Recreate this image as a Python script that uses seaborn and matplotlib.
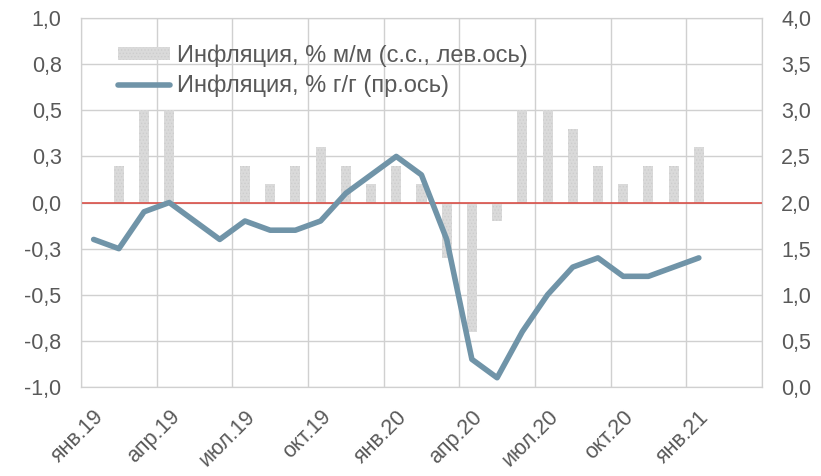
import numpy as np
import pandas as pd
import matplotlib
matplotlib.use('Agg')
import matplotlib.pyplot as plt
import seaborn as sns
from matplotlib.patches import Patch
from matplotlib.lines import Line2D

# Data (Jan 2019 .. Jan 2021)
months = ['янв.19', 'фев.19', 'мар.19', 'апр.19', 'май.19', 'июн.19',
          'июл.19', 'авг.19', 'сен.19', 'окт.19', 'ноя.19', 'дек.19',
          'янв.20', 'фев.20', 'мар.20', 'апр.20', 'май.20', 'июн.20',
          'июл.20', 'авг.20', 'сен.20', 'окт.20', 'ноя.20', 'дек.20',
          'янв.21']
mom_sa = [0.0, 0.2, 0.5, 0.5, 0.0, 0.0,
          0.2, 0.1, 0.2, 0.3, 0.2, 0.1,
          0.2, 0.1, -0.3, -0.7, -0.1, 0.5,
          0.5, 0.4, 0.2, 0.1, 0.2, 0.2,
          0.3]
yoy = [1.6, 1.5, 1.9, 2.0, 1.8, 1.6,
       1.8, 1.7, 1.7, 1.8, 2.1, 2.3,
       2.5, 2.3, 1.6, 0.3, 0.1, 0.6,
       1.0, 1.3, 1.4, 1.2, 1.2, 1.3,
       1.4]
xtick_labels = ['янв.19', 'апр.19', 'июл.19', 'окт.19', 'янв.20',
                'апр.20', 'июл.20', 'окт.20', 'янв.21']
left_ticks = [-1.0, -0.75, -0.5, -0.25, 0.0, 0.25, 0.5, 0.75, 1.0]
left_labels = ['-1,0', '-0,8', '-0,5', '-0,3', '0,0', '0,3', '0,5', '0,8', '1,0']
right_ticks = [0.0, 0.5, 1.0, 1.5, 2.0, 2.5, 3.0, 3.5, 4.0]
right_labels = ['0,0', '0,5', '1,0', '1,5', '2,0', '2,5', '3,0', '3,5', '4,0']
legend_labels = ['Инфляция, % м/м (с.с., лев.ось)', 'Инфляция, % г/г (пр.ось)']

df = pd.DataFrame({'month': months, 'mom': mom_sa, 'yoy': yoy, 'pos': np.arange(len(months))})

sns.set_style('white')
plt.rcParams['font.family'] = ['Liberation Sans', 'DejaVu Sans']
plt.rcParams['hatch.linewidth'] = 0.6

text_color = '#595959'
grid_color = '#d0d0d0'
bar_color = '#dadada'
line_color = '#7094a8'

fig, ax = plt.subplots(figsize=(8.21, 4.76), dpi=100)
fig.subplots_adjust(left=0.0987, right=0.928, top=0.962, bottom=0.187)

sns.barplot(data=df, x='pos', y='mom', native_scale=True, color=bar_color,
            width=0.4, saturation=1, ax=ax, zorder=2)
for p in ax.patches:
    p.set_hatch('.....')
    p.set_edgecolor('#cdcdcd')
    p.set_linewidth(0)
ax.set_xlim(-0.5, 26.5)
ax.set_ylim(-1.0, 1.0)
ax.set_yticks(left_ticks)
ax.set_yticklabels(left_labels)
ax.axhline(0, color='#d9433a', lw=1.1, zorder=3)

ax.set_xticks(np.arange(0, 25, 3))
ax.set_xticklabels(xtick_labels, rotation=45, ha='right', rotation_mode='anchor')
ax.set_xticks(np.arange(-0.5, 27, 3), minor=True)
ax.grid(which='minor', axis='x', color=grid_color, lw=1)
ax.grid(which='major', axis='y', color=grid_color, lw=1)
ax.grid(which='major', axis='x', visible=False)
ax.set_axisbelow(True)
ax.set_xlabel('')
ax.set_ylabel('')
ax.tick_params(axis='both', which='both', length=0, labelsize=15.5, colors=text_color)
ax.tick_params(axis='y', pad=14)
ax.tick_params(axis='x', pad=14)
for s in ax.spines.values():
    s.set_color(grid_color)

ax2 = ax.twinx()
sns.lineplot(data=df, x='pos', y='yoy', color=line_color, lw=4, ax=ax2,
             solid_capstyle='round', zorder=4)
ax2.set_ylim(0, 4)
ax2.set_yticks(right_ticks)
ax2.set_yticklabels(right_labels)
ax2.set_ylabel('')
ax2.tick_params(axis='y', length=0, labelsize=15.5, colors=text_color, pad=14)
for s in ax2.spines.values():
    s.set_color(grid_color)

handles = [Patch(facecolor=bar_color, edgecolor='#cdcdcd', hatch='.....', linewidth=0),
           Line2D([0], [0], color=line_color, lw=4, solid_capstyle='round')]
leg = ax2.legend(handles, legend_labels, loc='upper left', bbox_to_anchor=(0.041, 0.955),
                 frameon=False, fontsize=17, handlelength=2.2, handleheight=0.5,
                 handletextpad=0.3, labelspacing=0.35, borderaxespad=0)
for t in leg.get_texts():
    t.set_color(text_color)

fig.savefig('out.png', dpi=100)
